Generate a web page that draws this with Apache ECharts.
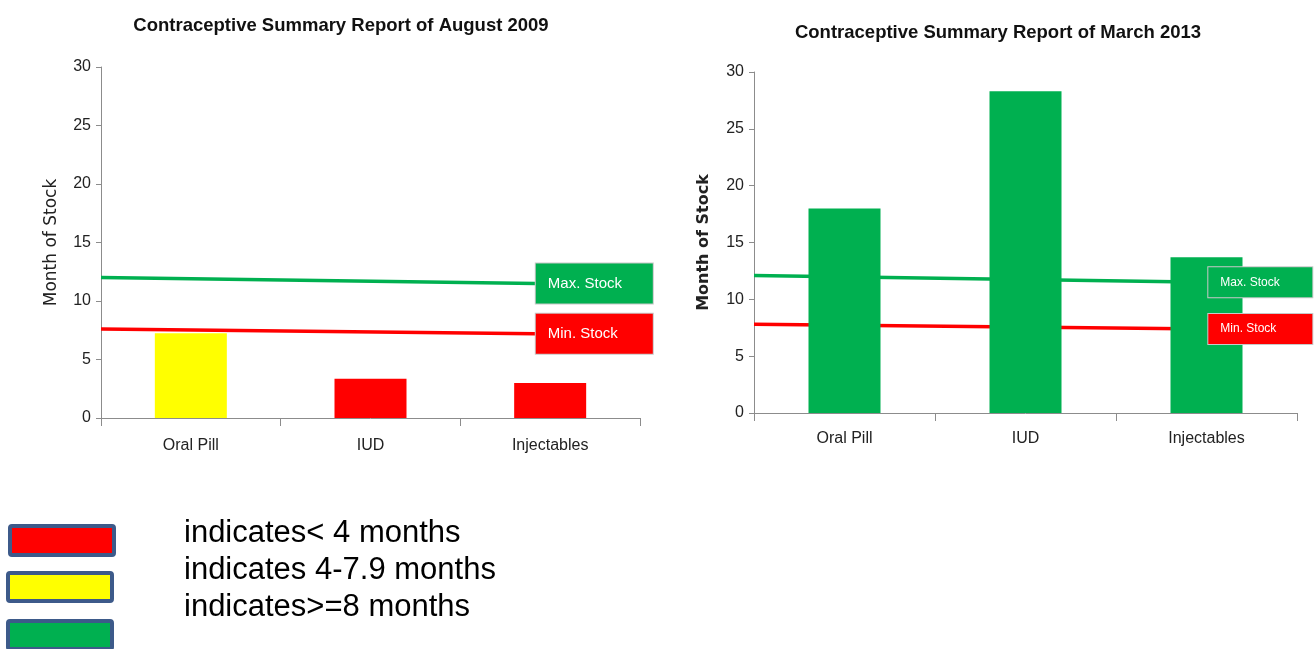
<!DOCTYPE html>
<html>
<head>
<meta charset="utf-8">
<script src="https://cdn.jsdelivr.net/npm/echarts@6/dist/echarts.min.js"></script>
<style>
  html, body { margin: 0; padding: 0; background: #fff; }
  #main { width: 1314px; height: 649px; }
</style>
</head>
<body>
<div id="main"></div>
<script>
var categories = ['Oral Pill', 'IUD', 'Injectables'];
var stock2009 = [7.25, 3.35, 3.0];
var stock2013 = [18.0, 28.3, 13.7];
// max / min stock lines: [x position on 0..3 scale, months]
var maxLine2009 = [[0, 12.0], [2.42, 11.5]];
var minLine2009 = [[0, 7.6], [2.42, 7.2]];
var maxLine2013 = [[0, 12.1], [2.51, 11.5]];
var minLine2013 = [[0, 7.8], [2.51, 7.4]];
var yTicks = [0, 5, 10, 15, 20, 25, 30];
var legendTexts = ['indicates< 4 months', 'indicates 4-7.9 months', 'indicates>=8 months'];

var RED = '#FF0000', YELLOW = '#FFFF00', GREEN = '#00B050';
var narrow = "'Liberation Sans Narrow', 'Liberation Sans', sans-serif";

function barColor(p) {
    if (p.value < 4) return RED;
    if (p.value < 8) return YELLOW;
    return GREEN;
}

var myChart = echarts.init(document.getElementById('main'));

function yAx(idx, bold) {
    return {
        type: 'value', gridIndex: idx, min: yTicks[0], max: yTicks[yTicks.length - 1], interval: 5,
        name: 'Month of Stock', nameLocation: 'middle', nameGap: bold ? 42 : 41,
        nameTextStyle: { fontFamily: 'DejaVu Sans', fontSize: bold ? 16 : 17, fontWeight: bold ? 'bold' : 'normal', color: '#222' },
        axisLine: { show: true, lineStyle: { color: '#8c8c8c', width: 1 } },
        axisTick: { show: true, length: 5, lineStyle: { color: '#8c8c8c' } },
        axisLabel: { fontFamily: narrow, fontSize: 16, color: '#222', margin: 10 },
        splitLine: { show: false }
    };
}

function xAx(idx, margin) {
    return {
        type: 'category', gridIndex: idx, data: categories,
        axisLine: { lineStyle: { color: '#8c8c8c', width: 1 } },
        axisTick: { show: true, length: 8, interval: 0, lineStyle: { color: '#8c8c8c' } },
        axisLabel: { fontFamily: narrow, fontSize: 16, color: '#222', margin: margin, interval: 0 }
    };
}

function hiddenX(idx) {
    return { type: 'value', gridIndex: idx, min: 0, max: 3, show: false };
}

// the line itself sits behind the bars
function stockLine(data, xIdx, yIdx, color) {
    return {
        type: 'line', xAxisIndex: xIdx, yAxisIndex: yIdx, data: data,
        symbol: 'none', silent: true, z: 1,
        lineStyle: { color: color, width: 3.5 }
    };
}

// the label box sits on top of the bars
function stockLabel(name, data, xIdx, yIdx, color, box) {
    return {
        name: name, type: 'line', xAxisIndex: xIdx, yAxisIndex: yIdx, data: data,
        symbol: 'none', silent: true, z: 6,
        lineStyle: { opacity: 0 },
        endLabel: {
            show: true, formatter: name, distance: 0,
            backgroundColor: color, color: '#fff',
            borderColor: '#c8c8c8', borderWidth: 1,
            fontFamily: narrow, fontSize: box.fontSize,
            width: box.width, height: box.height, lineHeight: box.height,
            padding: [0, 0, 0, box.pad], align: 'left'
        }
    };
}

var box1 = { width: 105, height: 40, pad: 12, fontSize: 15 };
var box2 = { width: 92, height: 30, pad: 12, fontSize: 12 };

var option = {
    animation: false,
    title: [
        { text: 'Contraceptive Summary Report of August 2009', left: 336, top: 11, textAlign: 'center',
          textStyle: { fontFamily: narrow, fontWeight: 'bold', fontSize: 18.5, color: '#111' } },
        { text: 'Contraceptive Summary Report of March 2013', left: 993, top: 18, textAlign: 'center',
          textStyle: { fontFamily: narrow, fontWeight: 'bold', fontSize: 18.5, color: '#111' } }
    ],
    grid: [
        { left: 101, top: 67, width: 539, height: 351 },
        { left: 754, top: 72, width: 543, height: 341 }
    ],
    xAxis: [xAx(0, 20), xAx(1, 18), hiddenX(0), hiddenX(1)],
    yAxis: [yAx(0, false), yAx(1, true)],
    series: [
        { type: 'bar', xAxisIndex: 0, yAxisIndex: 0, data: stock2009, barWidth: 72, z: 2,
          itemStyle: { color: barColor } },
        { type: 'bar', xAxisIndex: 1, yAxisIndex: 1, data: stock2013, barWidth: 72, z: 2,
          itemStyle: { color: barColor } },
        stockLine(maxLine2009, 2, 0, GREEN),
        stockLine(minLine2009, 2, 0, RED),
        stockLine(maxLine2013, 3, 1, GREEN),
        stockLine(minLine2013, 3, 1, RED),
        stockLabel('Max. Stock', maxLine2009, 2, 0, GREEN, box1),
        stockLabel('Min. Stock', minLine2009, 2, 0, RED, box1),
        stockLabel('Max. Stock', maxLine2013, 3, 1, GREEN, box2),
        stockLabel('Min. Stock', minLine2013, 3, 1, RED, box2)
    ],
    graphic: [
        { type: 'rect', left: 8, top: 524, shape: { width: 104, height: 29, r: 2 },
          style: { fill: RED, stroke: '#3d5a8a', lineWidth: 4 } },
        { type: 'rect', left: 6, top: 571, shape: { width: 104, height: 28, r: 2 },
          style: { fill: YELLOW, stroke: '#3d5a8a', lineWidth: 4 } },
        { type: 'rect', left: 6, top: 619, shape: { width: 104, height: 28, r: 2 },
          style: { fill: GREEN, stroke: '#3d5a8a', lineWidth: 4 } },
        { type: 'text', left: 184, top: 515,
          style: { text: legendTexts.join('\n'), fontFamily: 'Liberation Sans', fontSize: 31,
                   lineHeight: 37, fill: '#000' } }
    ]
};
myChart.setOption(option);
</script>
</body>
</html>
